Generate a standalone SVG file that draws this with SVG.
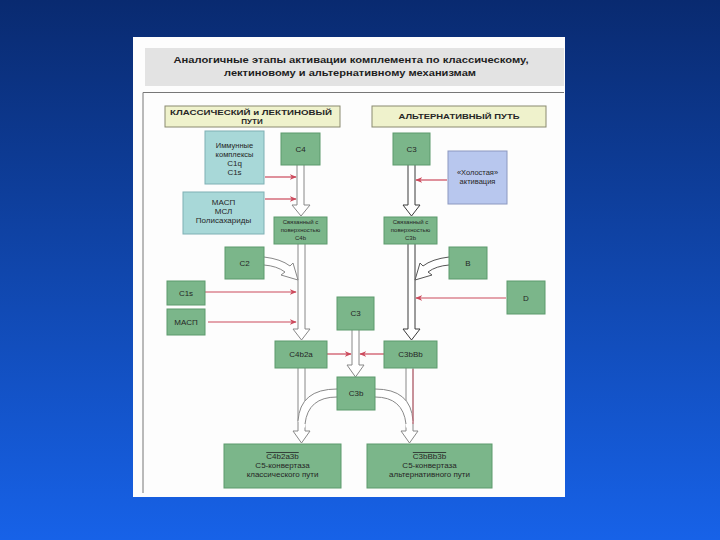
<svg xmlns="http://www.w3.org/2000/svg" width="720" height="540" viewBox="0 0 720 540">
<defs>
<linearGradient id="bg" x1="0" y1="0" x2="0" y2="1">
<stop offset="0" stop-color="#092a70"/>
<stop offset="1" stop-color="#1762e8"/>
</linearGradient>
<marker id="ra" viewBox="0 0 10 10" refX="9" refY="5" markerWidth="7" markerHeight="7" orient="auto" markerUnits="userSpaceOnUse">
<path d="M0,1 L10,5 L0,9 L3,5 Z" fill="#cc4a5c"/>
</marker>
<style>
.g rect{fill:#7bb68a;stroke:#5c9a6c;stroke-width:1}
.cy rect{fill:#a8d8d8;stroke:#7fb0b4;stroke-width:1}
.lv rect{fill:#b8c7ee;stroke:#8c98c0;stroke-width:1}
.hd rect{fill:#eff2cc;stroke:#8a8a70;stroke-width:1}
text{font-family:"Liberation Sans",Arial,sans-serif;fill:#262626;text-anchor:middle}
.t{font-size:8px}
.m{font-size:7.5px}
.s{font-size:6px}
.b{font-weight:bold;font-size:8px}
.ttl{font-weight:bold;font-size:9.5px;fill:#1e1e1e}
.ho{fill:#fff;stroke:#888;stroke-width:1}
.hod{fill:#fff;stroke:#3a3a3a;stroke-width:1}
.cv{fill:none;stroke:#888;stroke-width:1}
.red{fill:none;stroke:#cc4a5c;stroke-width:1.2;marker-end:url(#ra)}
.ov{text-decoration:overline}
</style>
</defs>
<rect width="720" height="540" fill="url(#bg)"/>
<rect x="133" y="37" width="432" height="460" fill="#fdfdfd"/>
<g id="title">
<rect x="145" y="48" width="419" height="38" fill="#e3e3e3"/>
<text class="ttl" x="351" y="63" textLength="355" lengthAdjust="spacingAndGlyphs">Аналогичные этапы активации комплемента по классическому,</text>
<text class="ttl" x="350" y="76" textLength="252" lengthAdjust="spacingAndGlyphs">лектиновому и альтернативному механизмам</text>
</g>
<path d="M143,493 V92.5 H564" fill="none" stroke="#777" stroke-width="1"/>
<g id="hdr-left" class="hd">
<rect x="165" y="106" width="175" height="21"/>
<text class="b" x="251" y="115" textLength="162" lengthAdjust="spacingAndGlyphs">КЛАССИЧЕСКИЙ и ЛЕКТИНОВЫЙ</text>
<text class="b" x="252" y="124">ПУТИ</text>
</g>
<g id="hdr-right" class="hd">
<rect x="372" y="106" width="174" height="21"/>
<text class="b" x="459" y="119" textLength="121" lengthAdjust="spacingAndGlyphs">АЛЬТЕРНАТИВНЫЙ ПУТЬ</text>
</g>
<g id="connectors">
<path class="ho" d="M297,165 V205 H292 L301,216 L310,205 H304 V165"/>
<path class="ho" d="M298,244 V329 H293 L301.5,340 L310,329 H305 V244"/>
<path class="hod" d="M408,165 V205 H403 L411.5,216 L420,205 H415 V165"/>
<path class="hod" d="M408,244 V329 H403 L411.5,340 L420,329 H415 V244"/>
<path class="ho" d="M352,330 V365 H347 L355.5,377 L364,365 H359 V330"/>
<path class="ho" d="M298,368 V431 H293 L301.5,443 L310,431 H305 V368"/>
<path class="ho" d="M406,368 V431 H401 L409.5,443 L418,431 H413 V368"/>
<path fill="#fff" stroke="none" d="M337,389 Q300,389 298,421 L305,428 Q308,397 337,397 Z"/>
<path fill="#fff" stroke="none" d="M375,389 Q411,389 413,421 L406,428 Q403,397 375,397 Z"/>
<path class="cv" d="M337,389 Q300,389 298,421"/>
<path class="cv" d="M337,397 Q308,397 305,424"/>
<path class="cv" d="M375,389 Q411,389 413,421"/>
<path class="cv" d="M375,397 Q403,397 406,424"/>
<path fill="none" stroke="#cc6070" stroke-width="1" d="M413,369 V424"/>
<path fill="#fff" stroke="#888" stroke-width="1" d="M264,257 Q281,259 290,266 L293,263 L298,280 L281,275 L285,272 Q277,266 264,265"/>
<path fill="#fff" stroke="#555" stroke-width="1" d="M449,257 Q432,259 423,266 L420,263 L415,280 L432,275 L428,272 Q436,266 449,265"/>
<path class="red" d="M265,177 H296"/>
<path class="red" d="M265,199 H296"/>
<path class="red" d="M447,180 H416"/>
<path class="red" d="M205,292 H296"/>
<path class="red" d="M208,322 H296"/>
<path class="red" d="M506,298 H416"/>
<path class="red" d="M327,354 H351"/>
<path class="red" d="M384,354 H360"/>
</g>
<g id="immune" class="cy">
<rect x="205" y="131" width="59" height="53"/>
<text class="m" x="234.5" y="148">Иммунные</text>
<text class="m" x="234.5" y="157">комплексы</text>
<text class="t" x="234.5" y="166">C1q</text>
<text class="t" x="234.5" y="175">C1s</text>
</g>
<g id="masp-msl" class="cy">
<rect x="183" y="192" width="81" height="42"/>
<text class="t" x="223.5" y="205">МАСП</text>
<text class="t" x="223.5" y="214">МСЛ</text>
<text class="t" x="223.5" y="223">Полисахариды</text>
</g>
<g id="c4" class="g">
<rect x="281" y="133" width="39" height="32"/>
<text class="t" x="300.5" y="152">C4</text>
</g>
<g id="c3top" class="g">
<rect x="393" y="133" width="37" height="32"/>
<text class="t" x="411.5" y="152">C3</text>
</g>
<g id="idle" class="lv">
<rect x="448" y="151" width="59" height="53"/>
<text class="m" x="477.5" y="175">«Холостая»</text>
<text class="m" x="477.5" y="184">активация</text>
</g>
<g id="c4b-surface" class="g">
<rect x="274" y="217" width="53" height="27"/>
<text class="s" x="300.5" y="224">Связанный с</text>
<text class="s" x="300.5" y="232">поверхностью</text>
<text class="s" x="300.5" y="240">C4b</text>
</g>
<g id="c3b-surface" class="g">
<rect x="384" y="217" width="53" height="27"/>
<text class="s" x="410.5" y="224">Связанный с</text>
<text class="s" x="410.5" y="232">поверхностью</text>
<text class="s" x="410.5" y="240">C3b</text>
</g>
<g id="c2" class="g">
<rect x="225" y="247" width="39" height="32"/>
<text class="t" x="244.5" y="266">C2</text>
</g>
<g id="b" class="g">
<rect x="449" y="247" width="38" height="32"/>
<text class="t" x="468" y="266">B</text>
</g>
<g id="c1s" class="g">
<rect x="167" y="281" width="38" height="24"/>
<text class="t" x="186" y="296">C1s</text>
</g>
<g id="masp" class="g">
<rect x="167" y="309" width="38" height="26"/>
<text class="t" x="186" y="325">МАСП</text>
</g>
<g id="d" class="g">
<rect x="507" y="281" width="38" height="33"/>
<text class="t" x="526" y="301">D</text>
</g>
<g id="c3mid" class="g">
<rect x="337" y="297" width="37" height="33"/>
<text class="t" x="355.5" y="316">C3</text>
</g>
<g id="c4b2a" class="g">
<rect x="275" y="341" width="52" height="27"/>
<text class="t" x="301" y="357">C4b2a</text>
</g>
<g id="c3bbb" class="g">
<rect x="384" y="341" width="53" height="27"/>
<text class="t" x="410.5" y="357">C3bBb</text>
</g>
<g id="c3b" class="g">
<rect x="337" y="377" width="38" height="33"/>
<text class="t" x="356" y="396">C3b</text>
</g>
<g id="c5-classic" class="g">
<rect x="224" y="444" width="117" height="44"/>
<text class="t" x="282.5" y="459"><tspan class="ov">C4b2a3b</tspan></text>
<text class="t" x="282.5" y="468">C5-конвертаза</text>
<text class="t" x="282.5" y="477">классического пути</text>
</g>
<g id="c5-alt" class="g">
<rect x="367" y="444" width="125" height="44"/>
<text class="t" x="429.5" y="459"><tspan class="ov">C3bBb3b</tspan></text>
<text class="t" x="429.5" y="468">C5-конвертаза</text>
<text class="t" x="429.5" y="477">альтернативного пути</text>
</g>
</svg>
